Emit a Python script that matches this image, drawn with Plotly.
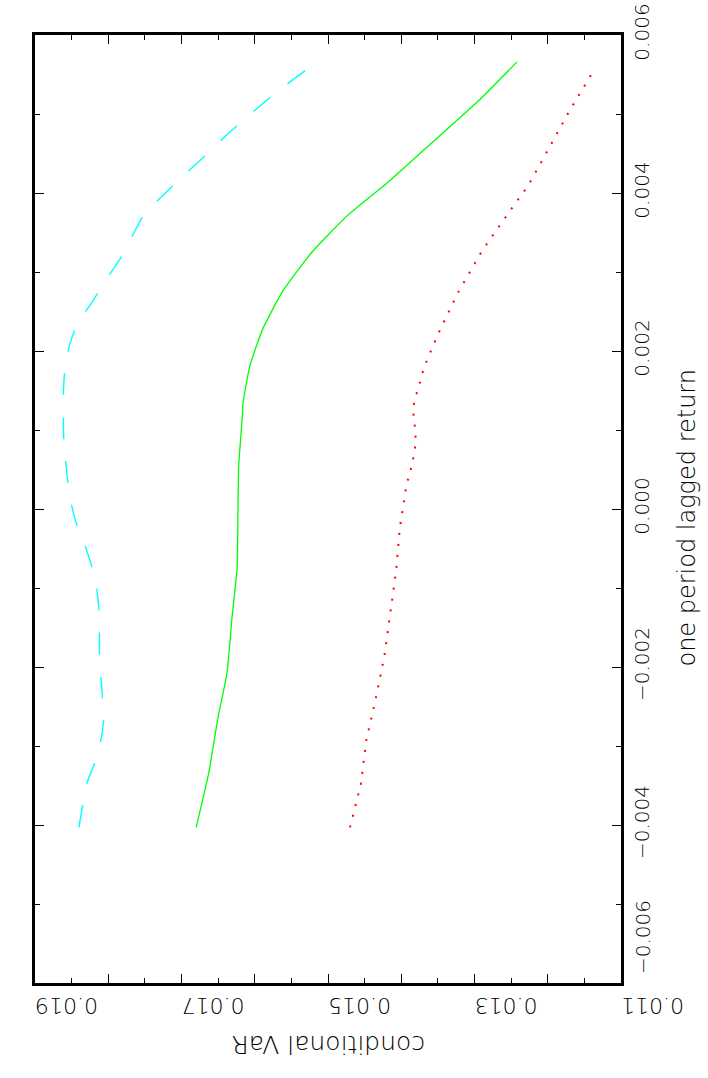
import plotly.graph_objects as go

# ---- data ----
cyan_var = [0.01840, 0.01829, 0.01818, 0.01810, 0.01806, 0.01808, 0.01812, 0.01812, 0.01813,
            0.01816, 0.01823, 0.01833, 0.01844, 0.01852, 0.01856, 0.01859, 0.01861, 0.01861,
            0.01859, 0.01853, 0.01842, 0.01822, 0.01803, 0.01783, 0.01767, 0.01751, 0.01723,
            0.01695, 0.01668, 0.01640, 0.01612, 0.01584, 0.01557, 0.01528]
cyan_ret = [-0.00403, -0.00347, -0.00320, -0.00292, -0.00265, -0.00238, -0.00181, -0.00153, -0.00125,
            -0.00098, -0.00071, -0.00043, -0.00017, 0.00013, 0.00041, 0.00068, 0.00096, 0.00152,
            0.00179, 0.00207, 0.00235, 0.00262, 0.00290, 0.00318, 0.00346, 0.00373, 0.00399,
            0.00424, 0.00447, 0.00472, 0.00495, 0.00517, 0.00537, 0.00557]

green_var = [0.01680, 0.01663, 0.01650, 0.01638, 0.01631, 0.01624, 0.01623, 0.01622, 0.01617,
             0.01616, 0.01607, 0.01589, 0.01561, 0.01522, 0.01473, 0.01419, 0.01365, 0.01293,
             0.01242]
green_ret = [-0.00403, -0.00335, -0.00263, -0.00208, -0.00137, -0.00073, -0.00010, 0.00053, 0.00117,
             0.00134, 0.00180, 0.00228, 0.00277, 0.00325, 0.00372, 0.00413, 0.00458, 0.00518,
             0.00566]

red_var = [0.01470, 0.01455, 0.01448, 0.01435, 0.01423, 0.01415, 0.01407, 0.01402, 0.01397,
           0.01393, 0.01385, 0.01380, 0.01382, 0.01384, 0.01382, 0.01377, 0.01369, 0.01351,
           0.01323, 0.01289, 0.01248, 0.01227, 0.01203, 0.01171, 0.01136]
red_ret = [-0.00403, -0.00348, -0.00294, -0.00241, -0.00186, -0.00132, -0.00078, -0.00024, 0.00004,
           0.00030, 0.00057, 0.00084, 0.00111, 0.00124, 0.00138, 0.00152, 0.00179, 0.00219,
           0.00273, 0.00328, 0.00382, 0.00409, 0.00449, 0.00503, 0.00557]

x_major = [0.011, 0.012, 0.013, 0.014, 0.015, 0.016, 0.017, 0.018, 0.019]
x_labels = ["0.011", "", "0.013", "", "0.015", "", "0.017", "", "0.019"]
y_major = [-0.006, -0.004, -0.002, 0.000, 0.002, 0.004, 0.006]
y_labels = ["", "\u22120.004", "\u22120.002", "0.000", "0.002", "0.004", "0.006"]
y_edge_label = "\u22120.006"

FONT = "DejaVu Sans"
W = 300

fig = go.Figure()
fig.add_trace(go.Scatter(x=cyan_var, y=cyan_ret, mode="lines",
                         line=dict(color="#00FFFF", width=1.4, dash="22px,22px", shape="spline", smoothing=0.6)))
fig.add_trace(go.Scatter(x=green_var, y=green_ret, mode="lines",
                         line=dict(color="#00FF00", width=1.3, shape="spline", smoothing=0.5)))
fig.add_trace(go.Scatter(x=red_var, y=red_ret, mode="lines",
                         line=dict(color="#FF0000", width=2, dash="2px,9px")))

fig.update_layout(
    width=708, height=1078,
    margin=dict(l=35, r=87, t=35, b=95),
    paper_bgcolor="white", plot_bgcolor="white",
    showlegend=False,
    font=dict(family=FONT, color="black"),
    xaxis=dict(
        range=[0.019, 0.011], showgrid=False, zeroline=False, automargin=False,
        showline=True, linewidth=3, linecolor="black", mirror="ticks",
        ticks="inside", ticklen=9, tickwidth=1.3, tickcolor="black",
        tickmode="array", tickvals=x_major, ticktext=x_labels,
        tickangle=180, ticklabelstandoff=8,
        tickfont=dict(size=22, family=FONT, color="black", weight=W),
        minor=dict(ticks="inside", ticklen=5, tickwidth=1.3, tickcolor="black",
                   dtick=0.0005, tick0=0.011, showgrid=False),
    ),
    yaxis=dict(
        range=[-0.006, 0.006], side="right", showgrid=False, zeroline=False, automargin=False,
        showline=True, linewidth=3, linecolor="black", mirror="ticks",
        ticks="inside", ticklen=9, tickwidth=1.3, tickcolor="black",
        tickmode="array", tickvals=y_major, ticktext=y_labels,
        tickangle=-90, ticklabelstandoff=1,
        tickfont=dict(size=20, family=FONT, color="black", weight=W),
        minor=dict(ticks="inside", ticklen=5, tickwidth=1.3, tickcolor="black",
                   dtick=0.001, tick0=0.0, showgrid=False),
    ),
    annotations=[
        dict(text="conditional VaR", xref="paper", yref="paper", x=0.5, y=0,
             yshift=-62, xanchor="center", yanchor="middle", textangle=180,
             showarrow=False, font=dict(size=25, family=FONT, color="black", weight=W)),
        dict(text="one period lagged return", xref="paper", yref="paper", x=1, y=0.491,
             xshift=66, xanchor="center", yanchor="middle", textangle=-90,
             showarrow=False, font=dict(size=24, family=FONT, color="black", weight=W)),
        dict(text=y_edge_label, xref="paper", yref="y", x=1, y=y_major[0],
             xshift=22, yshift=46, xanchor="center", yanchor="middle", textangle=-90,
             showarrow=False, font=dict(size=20, family=FONT, color="black", weight=W)),
    ],
)

fig.write_html("out.html")
